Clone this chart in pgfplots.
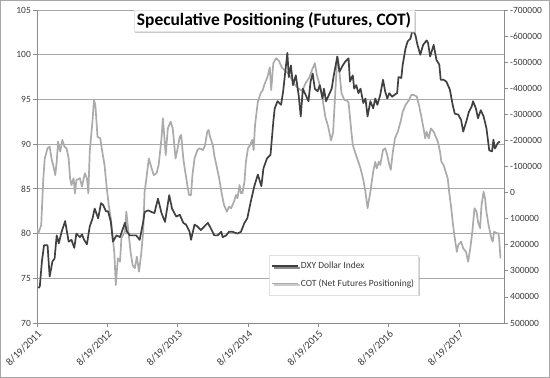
\documentclass[border=0pt]{standalone}
\usepackage{pgfplots}
\pgfplotsset{compat=1.18}
\usepackage{pgfplotstable}
\usepackage{fontspec}
\setmainfont{Carlito}
\usetikzlibrary{shadows}
\definecolor{dxy}{HTML}{404040}
\definecolor{cot}{HTML}{ABABAB}
\definecolor{gridc}{HTML}{A8A8A8}
\definecolor{axc}{HTML}{8C8C8C}
\definecolor{txt}{HTML}{3A3A3A}

% x = years since 8/19/2011
\pgfplotstableread{
x y
0.02 73.9
0.04 74.1
0.07 76.9
0.10 78.7
0.15 78.7
0.18 75.2
0.22 76.9
0.25 77.2
0.28 79.8
0.31 78.9
0.35 80.2
0.40 81.4
0.45 79.1
0.49 79.3
0.53 78.4
0.56 80.0
0.61 79.6
0.64 79.9
0.67 79.3
0.71 78.8
0.75 80.8
0.79 81.7
0.82 82.8
0.87 81.7
0.91 83.4
0.94 83.2
0.98 82.5
1.01 82.5
1.05 81.3
1.08 79.1
1.13 79.8
1.18 79.6
1.25 81.2
1.28 80.2
1.32 79.8
1.37 79.8
1.41 79.8
1.46 79.3
1.51 81.3
1.53 82.4
1.58 82.6
1.63 82.4
1.67 82.3
1.72 83.9
1.77 82.3
1.82 81.3
1.88 84.3
1.92 82.8
1.98 81.9
2.03 82.1
2.08 81.2
2.12 81.0
2.17 80.2
2.19 79.3
2.24 81.0
2.28 80.8
2.33 80.4
2.38 80.8
2.43 81.2
2.47 80.6
2.52 79.8
2.57 79.8
2.62 80.2
2.64 79.6
2.69 79.8
2.73 80.2
2.78 80.2
2.85 80.0
2.90 80.2
2.95 81.2
2.99 81.7
3.04 83.6
3.09 85.3
3.14 86.6
3.19 85.3
3.22 87.3
3.27 88.4
3.32 88.8
3.36 92.5
3.38 94.0
3.42 94.8
3.47 94.4
3.50 95.9
3.53 98.1
3.56 100.2
3.58 97.5
3.61 98.8
3.64 96.6
3.68 97.7
3.72 95.5
3.75 93.1
3.78 96.2
3.82 95.5
3.86 94.8
3.89 97.0
3.92 97.9
3.95 96.2
3.99 95.9
4.02 96.6
4.06 95.1
4.08 96.2
4.11 94.8
4.15 95.5
4.19 96.2
4.22 97.7
4.27 99.8
4.30 98.1
4.34 98.7
4.38 99.2
4.43 99.6
4.45 97.0
4.49 97.7
4.51 96.2
4.54 96.6
4.57 95.7
4.60 96.2
4.64 94.6
4.67 95.1
4.70 93.1
4.74 94.8
4.78 94.0
4.81 95.1
4.84 94.4
4.88 95.5
4.92 97.2
4.95 95.9
4.98 95.1
5.01 95.7
5.05 95.3
5.08 95.5
5.12 95.7
5.14 97.5
5.18 97.4
5.20 98.9
5.24 100.7
5.27 101.5
5.31 101.8
5.34 102.8
5.38 102.2
5.41 101.1
5.45 100.0
5.49 101.1
5.54 101.6
5.56 101.3
5.59 99.8
5.64 101.1
5.68 99.4
5.72 98.9
5.74 97.2
5.78 97.2
5.82 97.0
5.87 96.1
5.91 94.4
5.94 93.4
5.99 93.3
6.03 92.7
6.06 91.4
6.11 92.7
6.14 93.6
6.18 94.2
6.20 94.8
6.24 94.0
6.27 92.9
6.31 93.8
6.35 93.1
6.39 91.8
6.43 89.3
6.47 89.2
6.49 90.5
6.51 89.5
6.55 90.1
6.58 90.3
}\dxydata

\pgfplotstableread{
x y
0.00 137000
0.02 156000
0.06 124000
0.09 -55000
0.11 -131000
0.15 -170000
0.18 -176000
0.21 -125000
0.23 -106000
0.26 -67000
0.28 -118000
0.30 -195000
0.33 -157000
0.36 -202000
0.39 -176000
0.42 -170000
0.45 -131000
0.47 -55000
0.49 -29000
0.52 -55000
0.54 3000
0.56 -48000
0.61 -55000
0.64 -23000
0.68 -74000
0.71 -55000
0.73 3000
0.75 -157000
0.79 -278000
0.81 -355000
0.83 -336000
0.86 -214000
0.90 -208000
0.92 -170000
0.96 -106000
0.99 -23000
1.02 48000
1.05 99000
1.10 233000
1.12 354000
1.15 252000
1.18 265000
1.20 175000
1.25 150000
1.27 73000
1.29 124000
1.33 227000
1.36 278000
1.39 290000
1.42 246000
1.45 303000
1.48 239000
1.51 150000
1.53 -3000
1.55 -42000
1.59 -131000
1.63 -93000
1.66 -67000
1.70 -74000
1.73 -106000
1.77 -208000
1.79 -285000
1.83 -144000
1.86 -246000
1.90 -272000
1.93 -246000
1.97 -131000
2.00 -170000
2.03 -214000
2.05 -221000
2.08 -131000
2.10 -93000
2.13 -42000
2.16 9000
2.19 9000
2.21 -67000
2.24 -131000
2.28 -163000
2.31 -170000
2.36 -163000
2.39 -182000
2.42 -233000
2.44 -240000
2.46 -214000
2.50 -182000
2.52 -144000
2.56 -93000
2.59 -55000
2.63 9000
2.66 48000
2.70 73000
2.73 54000
2.76 60000
2.80 35000
2.83 9000
2.85 22000
2.88 -29000
2.90 3000
2.92 3000
2.95 -42000
2.97 -118000
3.00 -170000
3.03 -182000
3.06 -202000
3.08 -163000
3.10 -259000
3.14 -348000
3.18 -381000
3.21 -393000
3.23 -412000
3.27 -438000
3.29 -457000
3.31 -480000
3.33 -393000
3.36 -496000
3.40 -515000
3.44 -505000
3.48 -480000
3.52 -470000
3.56 -460000
3.61 -440000
3.65 -420000
3.71 -400000
3.77 -390000
3.82 -420000
3.87 -440000
3.91 -470000
3.95 -496000
3.98 -450000
4.04 -393000
4.07 -342000
4.10 -290000
4.14 -253000
4.18 -200000
4.21 -230000
4.24 -380000
4.27 -521000
4.29 -490000
4.33 -381000
4.37 -355000
4.40 -355000
4.43 -345000
4.47 -233000
4.49 -182000
4.52 -157000
4.56 -125000
4.60 -93000
4.64 -48000
4.67 -3000
4.70 60000
4.74 -3000
4.78 -80000
4.81 -118000
4.83 -93000
4.86 -118000
4.88 -106000
4.92 -163000
4.95 -170000
4.98 -144000
5.01 -106000
5.03 -87000
5.06 -157000
5.09 -208000
5.13 -233000
5.17 -272000
5.20 -310000
5.24 -336000
5.29 -355000
5.32 -374000
5.36 -374000
5.40 -368000
5.43 -336000
5.46 -297000
5.50 -240000
5.52 -208000
5.54 -233000
5.57 -208000
5.60 -246000
5.64 -233000
5.67 -214000
5.70 -195000
5.73 -157000
5.75 -118000
5.78 -106000
5.81 -80000
5.84 -55000
5.86 -3000
5.89 60000
5.91 112000
5.94 175000
5.97 227000
5.99 201000
6.03 188000
6.06 214000
6.10 227000
6.13 265000
6.16 214000
6.19 150000
6.22 60000
6.25 73000
6.27 112000
6.30 137000
6.32 48000
6.35 -3000
6.37 22000
6.39 73000
6.42 124000
6.46 175000
6.48 188000
6.50 150000
6.54 156000
6.56 156000
6.57 175000
6.59 252000
}\cotdata

\pgfplotsset{
  common/.style={
    at={(37bp,55bp)}, anchor=south west, scale only axis,
    width=467bp, height=313bp, xmin=0, xmax=6.64,
    axis line style={axc, line width=0.8bp},
    tick style={axc, line width=0.8bp},
    major tick length=4bp, tick align=outside,
    ticklabel style={font=\fontsize{9.5}{11}\selectfont, text=txt},
  },
}

\begin{document}
\begin{tikzpicture}
\useasboundingbox (0,0) rectangle (550bp,378bp);
\fill[white] (0,0) rectangle (550bp,378bp);
% left axis, grid and dates
\begin{axis}[common,
  ymin=70, ymax=105,
  axis x line*=bottom, axis y line*=left,
  xtick={0,1,2,3,4,5,6},
  xticklabels={8/19/2011,8/19/2012,8/19/2013,8/19/2014,8/19/2015,8/19/2016,8/19/2017},
  xticklabel style={rotate=45, anchor=north east, inner sep=1.5bp, font=\fontsize{10.5}{12}\selectfont},
  ytick={70,75,80,85,90,95,100,105},
  yticklabels={70,75,80,85,90,95,100,105},
  yticklabel style={inner sep=2bp},
  ymajorgrids, grid style={gridc, line width=0.8bp},
]
\addplot[draw=none] coordinates {(0,70)};
\end{axis}
% right axis, COT
\begin{axis}[common,
  ymin=-700000, ymax=500000, y dir=reverse,
  axis x line=none, axis y line*=right,
  ytick={-700000,-600000,-500000,-400000,-300000,-200000,-100000,0,100000,200000,300000,400000,500000},
  yticklabels={-700000,-600000,-500000,-400000,-300000,-200000,-100000,0,100000,200000,300000,400000,500000},
  yticklabel style={inner sep=2bp},
]
\addplot[cot, line width=1.7bp, line join=round] table {\cotdata};
\end{axis}
% DXY line on top, with legend
\begin{axis}[common,
  ymin=70, ymax=105,
  axis lines=none, xtick=\empty, ytick=\empty,
  legend style={at={(axis description cs:0.497,0.217)}, anchor=north west,
    fill=white, draw=gray!25, line width=0.4bp,
    drop shadow={shadow xshift=1.5bp, shadow yshift=-1.5bp, fill=black!35, opacity=0.6},
    font=\fontsize{9.5}{11}\selectfont, text=txt,
    row sep=5bp, inner xsep=2bp, inner ysep=5bp},
  legend cell align=left,
  legend image code/.code={\draw[#1] (0bp,0bp) -- (26bp,0bp);},
]
\addplot[dxy, line width=1.7bp, line join=round] table {\dxydata};
\addlegendentry{DXY Dollar Index}
\addlegendimage{cot, line width=1.7bp}
\addlegendentry{COT (Net Futures Positioning)}
\end{axis}
\node[fill=white, draw=gray!20, line width=0.4bp,
  drop shadow={shadow xshift=1.5bp, shadow yshift=-1.5bp, fill=black!35, opacity=0.6},
  font=\bfseries\fontsize{17.5}{20}\selectfont, text=black,
  inner xsep=3bp, inner ysep=2.5bp] at (274bp,357bp) {Speculative Positioning (Futures, COT)};
\draw[gray!70, line width=1bp] (0.5bp,0.5bp) rectangle (549.5bp,377.5bp);
\end{tikzpicture}
\end{document}
